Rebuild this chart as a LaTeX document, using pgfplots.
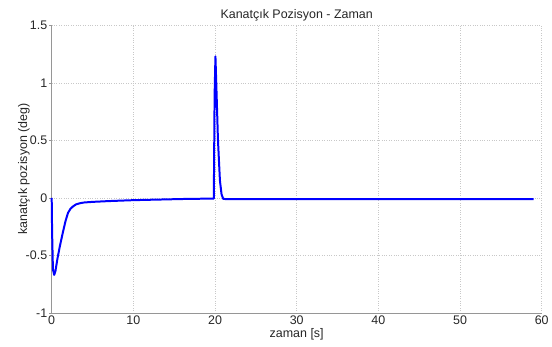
\documentclass[border=0pt]{standalone}
\usepackage{pgfplots}
\pgfplotsset{compat=1.18}
\usepackage{fontspec}
\setmainfont{Liberation Sans}
\definecolor{axgray}{RGB}{150,150,150}
\definecolor{gridgray}{RGB}{200,200,200}
\begin{document}
\begin{tikzpicture}
\path[use as bounding box] (-51.7bp,-34bp) rectangle (500.3bp,312.9bp);
\begin{axis}[
  scale only axis,
  width=490bp, height=287.6bp,
  xmin=0, xmax=60, ymin=-1, ymax=1.5,
  xtick={0,10,...,60},
  ytick={-1,-0.5,0,0.5,1,1.5},
  axis x line*=bottom, axis y line*=left,
  axis line style={axgray, line width=0.8pt, -},
  tick style={axgray, line width=0.6pt},
  tick align=outside,
  major tick length=2.5bp,
  xtick style={draw=none},
  grid=major,
  major grid style={gridgray, dotted, line width=0.6pt},
  font=\fontsize{12.5}{14}\selectfont,
  /pgf/number format/assume math mode=true,
  tick label style={font=\fontsize{12.5}{14}\selectfont, text=black!85},
  yticklabel style={xshift=1.5bp},
  xticklabel style={yshift=3bp},
  title={Kanatçık Pozisyon - Zaman},
  title style={yshift=-5bp, text=black!85},
  xlabel={zaman [s]},
  xlabel style={yshift=3bp, text=black!85},
  ylabel={kanatçık pozisyon (deg)},
  ylabel style={yshift=-11bp, text=black!85},
  clip=false,
]
\addplot[blue, line width=2pt, line join=round] coordinates {
(0,0) (0.05,-0.3) (0.15,-0.62) (0.3,-0.67) (0.45,-0.64) (0.7,-0.53)
(1.0,-0.42) (1.4,-0.29) (1.7,-0.2) (2.0,-0.13) (2.3,-0.095) (2.6,-0.075)
(3.0,-0.056) (3.5,-0.046) (4,-0.04) (5,-0.035) (7,-0.028) (10,-0.02)
(13,-0.015) (16,-0.01) (19.85,-0.006) (19.95,0.9) (20.05,1.23) (20.15,1.0)
(20.36,0.5) (20.6,0.15) (20.8,0.03) (21.0,-0.008) (21.2,-0.01) (59,-0.01)
};
\end{axis}
\end{tikzpicture}
\end{document}
